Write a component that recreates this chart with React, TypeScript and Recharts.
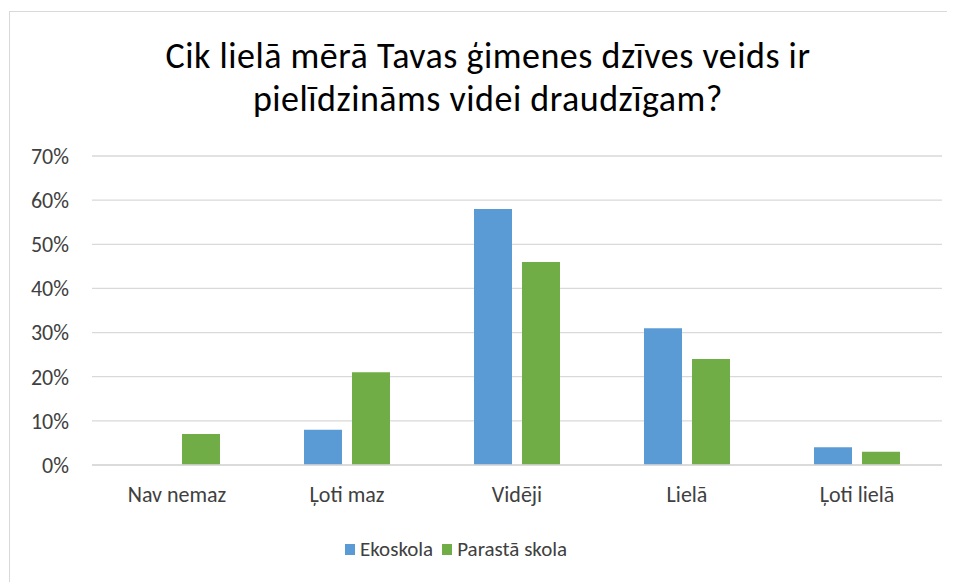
import { BarChart, Bar, XAxis, YAxis, CartesianGrid } from 'recharts'

const categories = ['Nav nemaz', 'Ļoti maz', 'Vidēji', 'Lielā', 'Ļoti lielā']
const ekoskola = [0, 0.08, 0.58, 0.31, 0.04]
const parastaSkola = [0.07, 0.21, 0.46, 0.24, 0.03]
const yTicks = [0, 0.1, 0.2, 0.3, 0.4, 0.5, 0.6, 0.7]

const seriesNames = { eko: 'Ekoskola', parasta: 'Parastā skola' }
const BLUE = '#5B9BD5'
const GREEN = '#70AD47'
const FONT = "Carlito, Lato, sans-serif"

const data = categories.map((name, i) => ({
  name,
  eko: ekoskola[i],
  parasta: parastaSkola[i],
}))

// legend drawn as plain html so it doesn't eat into the plot area
function LegendBox() {
  const items = [
    { label: seriesNames.eko, color: BLUE },
    { label: seriesNames.parasta, color: GREEN },
  ]
  return (
    <div
      style={{
        position: 'absolute',
        top: 524,
        left: 335,
        display: 'flex',
        gap: 9,
        fontFamily: FONT,
        fontSize: 21,
        color: '#404040',
      }}
    >
      {items.map((it) => (
        <div key={it.label} style={{ display: 'flex', alignItems: 'center' }}>
          <span style={{ display: 'inline-block', width: 10, height: 11, background: it.color, marginRight: 5 }} />
          <span>{it.label}</span>
        </div>
      ))}
    </div>
  )
}

export default function App() {
  return (
    <div
      style={{
        position: 'relative',
        marginLeft: 1,
        marginTop: 3,
        width: 946,
        height: 571,
        borderTop: '1px solid #d9d9d9',
        borderLeft: '1px solid #d9d9d9',
        background: '#fff',
      }}
    >
      <div
        style={{
          position: 'absolute',
          top: 23,
          left: 0,
          width: 956,
          textAlign: 'center',
          fontFamily: FONT,
          fontSize: 36,
          letterSpacing: 0.5,
          lineHeight: '43px',
          color: '#000',
        }}
      >
        Cik lielā mērā Tavas ģimenes dzīves veids ir
        <br />
        pielīdzināms videi draudzīgam?
      </div>
      <BarChart
        width={946}
        height={571}
        data={data}
        margin={{ top: 144, right: 14, bottom: 58, left: 0 }}
        barSize={38}
        barGap={10}
      >
        <CartesianGrid vertical={false} stroke="#d9d9d9" strokeWidth={1.3} />
        <XAxis
          dataKey="name"
          tickLine={false}
          tickSize={0}
          tickMargin={21}
          axisLine={{ stroke: '#d9d9d9', strokeWidth: 1.3 }}
          tick={{ fill: '#404040', fontSize: 22, fontFamily: FONT }}
          interval={0}
          height={60}
        />
        <YAxis
          domain={[0, 0.7]}
          ticks={yTicks}
          tickFormatter={(v) => `${Math.round(v * 100)}%`}
          axisLine={false}
          tickLine={false}
          tickSize={0}
          tickMargin={23}
          width={82}
          tick={{ fill: '#404040', fontSize: 22, fontFamily: FONT }}
        />
        <Bar dataKey="eko" name={seriesNames.eko} fill={BLUE} isAnimationActive={false} />
        <Bar dataKey="parasta" name={seriesNames.parasta} fill={GREEN} isAnimationActive={false} />
      </BarChart>
      <LegendBox />
    </div>
  )
}
